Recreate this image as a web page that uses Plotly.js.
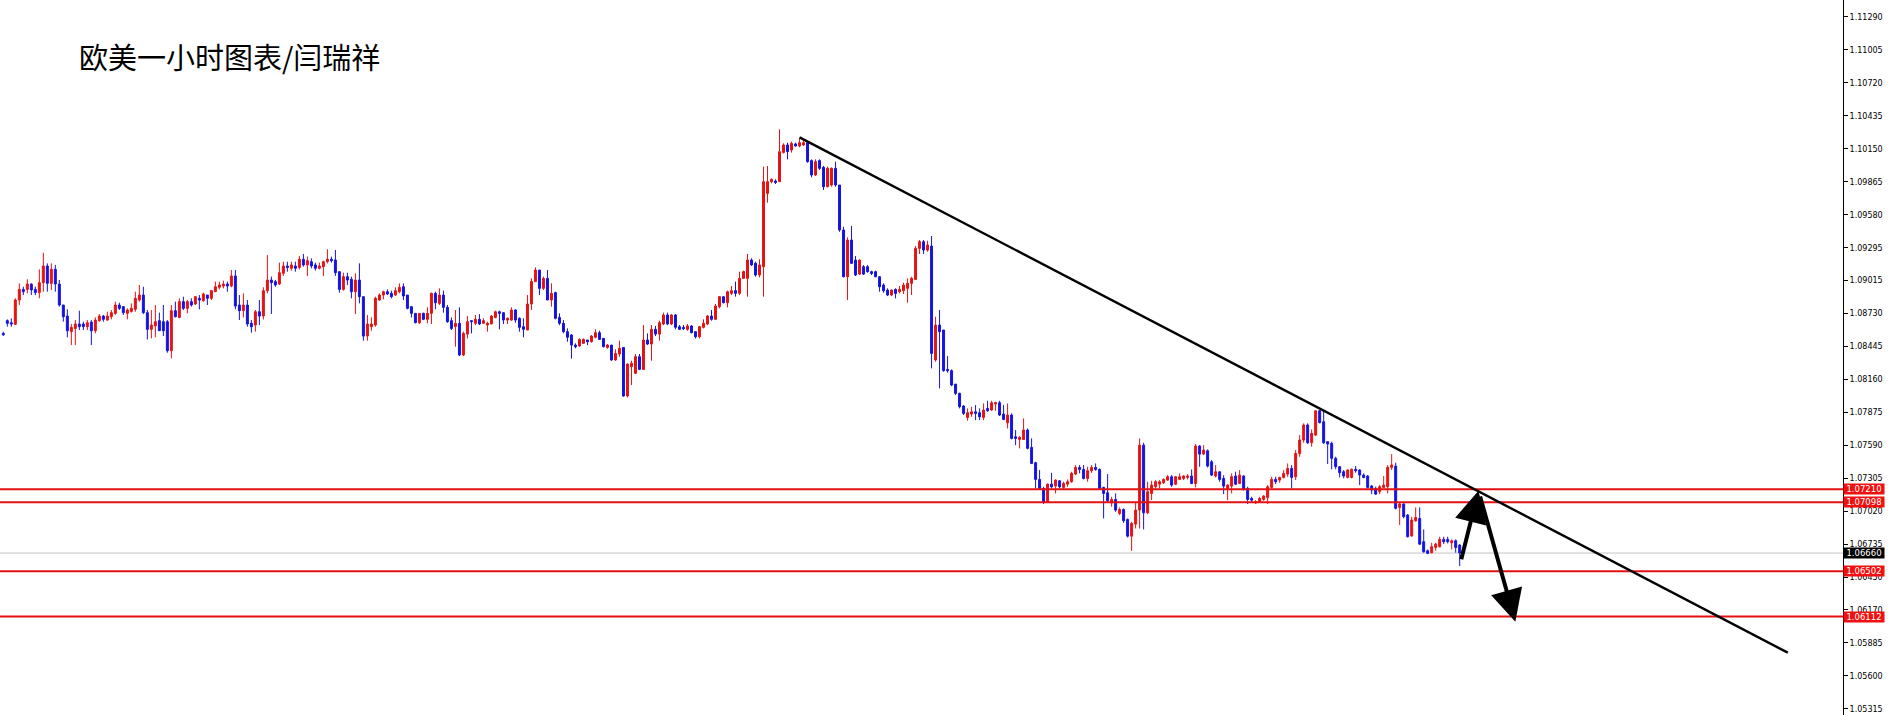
<!DOCTYPE html>
<html>
<head>
<meta charset="utf-8">
<script src="https://cdn.plot.ly/plotly-3.0.1.min.js"></script>
<style>
html,body{margin:0;padding:0;background:#ffffff;}
#chart{width:1890px;height:715px;}
</style>
</head>
<body>
<div id="chart"></div>
<script>
// ---- EUR/USD 1-hour candles ----
const opens = [
1.08557,1.08667,1.08649,1.08635,1.08845,1.08937,1.08937,1.08983,1.08937,1.08909,
1.08995,1.09139,1.08989,1.09110,1.08983,1.08802,1.08707,1.08572,1.08600,1.08638,
1.08638,1.08615,1.08655,1.08580,1.08667,1.08707,1.08672,1.08701,1.08730,1.08802,
1.08788,1.08730,1.08747,1.08765,1.08845,1.08888,1.08736,1.08592,1.08621,1.08667,
1.08658,1.08658,1.08407,1.08753,1.08695,1.08831,1.08773,1.08831,1.08811,1.08860,
1.08839,1.08888,1.08860,1.08917,1.08955,1.08966,1.08983,1.08966,1.09053,1.08802,
1.08753,1.08802,1.08644,1.08629,1.08744,1.08707,1.08926,1.09018,1.09004,1.08983,
1.09076,1.09139,1.09119,1.09139,1.09127,1.09197,1.09148,1.09176,1.09148,1.09119,
1.09133,1.09176,1.09197,1.09191,1.09090,1.08937,1.09047,1.09024,1.08917,1.09018,
1.08874,1.08534,1.08615,1.08629,1.08845,1.08888,1.08917,1.08903,1.08888,1.08917,
1.08960,1.08888,1.08788,1.08730,1.08649,1.08730,1.08678,1.08730,1.08903,1.08816,
1.08888,1.08782,1.08667,1.08615,1.08644,1.08370,1.08551,1.08667,1.08644,1.08678,
1.08644,1.08629,1.08638,1.08695,1.08744,1.08736,1.08672,1.08672,1.08759,1.08687,
1.08615,1.08586,1.08811,1.09004,1.09104,1.08946,1.09032,1.08845,1.08909,1.08695,
1.08644,1.08572,1.08543,1.08456,1.08448,1.08471,1.08500,1.08485,1.08523,1.08563,
1.08514,1.08436,1.08456,1.08327,1.08379,1.08436,1.08016,1.08269,1.08212,1.08356,
1.08246,1.08500,1.08465,1.08592,1.08551,1.08638,1.08716,1.08638,1.08716,1.08615,
1.08609,1.08592,1.08621,1.08572,1.08528,1.08609,1.08638,1.08707,1.08678,1.08788,
1.08874,1.08822,1.08903,1.08926,1.08903,1.09032,1.09032,1.09191,1.09162,1.09061,
1.09133,1.09766,1.09867,1.09873,1.09867,1.10118,1.10184,1.10141,1.10193,1.10175,
1.10184,1.10204,1.10049,1.09925,1.10049,1.09991,1.09824,1.09838,1.09982,1.09838,
1.09450,1.09046,1.09363,1.09190,1.09069,1.09133,1.09133,1.09090,1.09090,1.09046,
1.08974,1.08931,1.08888,1.08937,1.08917,1.08925,1.08946,1.08989,1.09023,1.09291,
1.09349,1.09277,1.09311,1.08327,1.08629,1.08586,1.08246,1.08235,1.08119,1.08039,
1.07929,1.07831,1.07860,1.07880,1.07872,1.07831,1.07909,1.07895,1.07947,1.07958,
1.07860,1.07785,1.07852,1.07664,1.07641,1.07641,1.07722,1.07572,1.07440,1.07296,
1.07218,1.07103,1.07255,1.07238,1.07284,1.07227,1.07255,1.07276,1.07342,1.07399,
1.07382,1.07304,1.07371,1.07399,1.07382,1.07227,1.07181,1.07094,1.07123,1.07002,
1.07037,1.06950,1.06806,1.06910,1.07031,1.07592,1.07008,1.07175,1.07232,1.07255,
1.07267,1.07290,1.07319,1.07255,1.07296,1.07304,1.07313,1.07325,1.07261,1.07584,
1.07515,1.07543,1.07448,1.07325,1.07362,1.07304,1.07218,1.07238,1.07325,1.07261,
1.07325,1.07218,1.07132,1.07094,1.07103,1.07123,1.07140,1.07227,1.07296,1.07290,
1.07313,1.07342,1.07391,1.07319,1.07520,1.07636,1.07766,1.07613,1.07679,1.07889,
1.07794,1.07622,1.07607,1.07478,1.07406,1.07362,1.07313,1.07313,1.07383,1.07377,
1.07334,1.07325,1.07239,1.07218,1.07190,1.07227,1.07233,1.07400,1.07411,1.07054,
1.07083,1.06988,1.06807,1.06939,1.06959,1.06758,1.06680,1.06663,1.06709,1.06714,
1.06778,1.06778,1.06749,1.06766,1.06729
];
const highs = [
1.08572,1.08678,1.08687,1.08860,1.08989,1.08960,1.09024,1.08989,1.08960,1.09110,
1.09254,1.09162,1.09162,1.09148,1.09018,1.08802,1.08765,1.08638,1.08672,1.08753,
1.08658,1.08672,1.08672,1.08695,1.08724,1.08716,1.08744,1.08759,1.08831,1.08822,
1.08793,1.08773,1.08816,1.08917,1.08975,1.08960,1.08759,1.08759,1.08802,1.08736,
1.08802,1.08672,1.08802,1.08831,1.08860,1.08874,1.08845,1.08860,1.08880,1.08888,
1.08909,1.08888,1.08932,1.09004,1.09004,1.09012,1.09004,1.09104,1.09104,1.08888,
1.08903,1.08845,1.08672,1.08759,1.08845,1.08955,1.09234,1.09047,1.09018,1.09168,
1.09176,1.09176,1.09176,1.09176,1.09225,1.09243,1.09220,1.09205,1.09168,1.09168,
1.09185,1.09283,1.09220,1.09277,1.09090,1.09081,1.09081,1.09047,1.09076,1.09162,
1.08874,1.08716,1.08695,1.08874,1.08903,1.08926,1.08937,1.08926,1.08955,1.08989,
1.08989,1.08888,1.08793,1.08730,1.08730,1.08736,1.08782,1.08909,1.08917,1.08946,
1.08926,1.08802,1.08695,1.08759,1.08782,1.08572,1.08707,1.08672,1.08716,1.08724,
1.08687,1.08658,1.08716,1.08753,1.08753,1.08736,1.08695,1.08782,1.08765,1.08695,
1.08687,1.08888,1.09032,1.09127,1.09104,1.09047,1.09104,1.08989,1.08917,1.08730,
1.08672,1.08600,1.08551,1.08471,1.08514,1.08514,1.08500,1.08543,1.08592,1.08580,
1.08514,1.08465,1.08456,1.08419,1.08494,1.08436,1.08298,1.08321,1.08379,1.08379,
1.08629,1.08557,1.08629,1.08621,1.08667,1.08736,1.08736,1.08724,1.08724,1.08629,
1.08629,1.08638,1.08629,1.08572,1.08621,1.08678,1.08716,1.08759,1.08811,1.08880,
1.08874,1.08926,1.08966,1.09004,1.09090,1.09099,1.09243,1.09205,1.09176,1.09197,
1.09997,1.10003,1.09896,1.09887,1.10319,1.10198,1.10204,1.10213,1.10204,1.10242,
1.10221,1.10213,1.10060,1.10060,1.10060,1.10003,1.09997,1.09991,1.10040,1.09838,
1.09478,1.09386,1.09484,1.09225,1.09196,1.09147,1.09147,1.09098,1.09098,1.09052,
1.08989,1.08946,1.08937,1.08946,1.08966,1.08995,1.09032,1.09046,1.09311,1.09363,
1.09363,1.09357,1.09398,1.08701,1.08759,1.08586,1.08361,1.08246,1.08119,1.08045,
1.07938,1.07909,1.07924,1.07938,1.07909,1.07952,1.07975,1.07975,1.07967,1.07975,
1.07938,1.07952,1.07866,1.07722,1.07670,1.07823,1.07736,1.07650,1.07448,1.07376,
1.07232,1.07261,1.07353,1.07296,1.07290,1.07276,1.07296,1.07362,1.07420,1.07420,
1.07420,1.07405,1.07420,1.07434,1.07391,1.07232,1.07342,1.07146,1.07175,1.07054,
1.07045,1.06959,1.06930,1.07103,1.07650,1.07613,1.07276,1.07284,1.07290,1.07290,
1.07304,1.07333,1.07333,1.07325,1.07348,1.07333,1.07342,1.07382,1.07601,1.07592,
1.07592,1.07555,1.07463,1.07420,1.07362,1.07333,1.07255,1.07348,1.07362,1.07376,
1.07333,1.07232,1.07146,1.07117,1.07146,1.07160,1.07247,1.07319,1.07319,1.07319,
1.07376,1.07434,1.07420,1.07549,1.07679,1.07780,1.07780,1.07728,1.07889,1.07895,
1.07889,1.07622,1.07622,1.07492,1.07411,1.07377,1.07383,1.07391,1.07411,1.07383,
1.07348,1.07334,1.07247,1.07233,1.07247,1.07325,1.07420,1.07515,1.07440,1.07095,
1.07095,1.06997,1.06974,1.07054,1.07054,1.06864,1.06691,1.06749,1.06749,1.06801,
1.06801,1.06801,1.06778,1.06778,1.06737
];
const lows = [
1.08534,1.08615,1.08615,1.08629,1.08802,1.08888,1.08903,1.08888,1.08888,1.08860,
1.08917,1.08917,1.08932,1.08917,1.08788,1.08658,1.08523,1.08456,1.08456,1.08586,
1.08586,1.08586,1.08456,1.08557,1.08658,1.08658,1.08667,1.08678,1.08716,1.08759,
1.08716,1.08678,1.08736,1.08744,1.08831,1.08724,1.08505,1.08514,1.08523,1.08580,
1.08534,1.08390,1.08341,1.08695,1.08687,1.08759,1.08730,1.08788,1.08802,1.08765,
1.08831,1.08802,1.08845,1.08917,1.08937,1.08946,1.08917,1.08955,1.08765,1.08672,
1.08695,1.08615,1.08563,1.08572,1.08629,1.08678,1.08903,1.08724,1.08960,1.08975,
1.09053,1.09090,1.09099,1.09090,1.09110,1.09133,1.09053,1.09119,1.09099,1.09110,
1.09053,1.09162,1.09168,1.09053,1.08909,1.08926,1.08975,1.08860,1.08724,1.08816,
1.08494,1.08494,1.08580,1.08615,1.08839,1.08851,1.08888,1.08860,1.08880,1.08903,
1.08845,1.08765,1.08695,1.08644,1.08638,1.08672,1.08644,1.08638,1.08765,1.08802,
1.08736,1.08649,1.08586,1.08442,1.08361,1.08361,1.08514,1.08557,1.08629,1.08629,
1.08638,1.08572,1.08638,1.08687,1.08592,1.08638,1.08638,1.08667,1.08649,1.08572,
1.08523,1.08586,1.08759,1.09004,1.08888,1.08932,1.08845,1.08788,1.08678,1.08629,
1.08557,1.08485,1.08339,1.08428,1.08442,1.08465,1.08456,1.08477,1.08514,1.08500,
1.08436,1.08425,1.08321,1.08321,1.08356,1.08010,1.08004,1.08111,1.08206,1.08240,
1.08240,1.08456,1.08321,1.08534,1.08494,1.08629,1.08629,1.08629,1.08592,1.08586,
1.08586,1.08580,1.08557,1.08514,1.08514,1.08600,1.08629,1.08667,1.08672,1.08773,
1.08816,1.08782,1.08888,1.08874,1.08888,1.09032,1.08874,1.09139,1.09047,1.09041,
1.08874,1.09686,1.09853,1.09847,1.09867,1.10112,1.10060,1.10118,1.10170,1.10164,
1.10175,1.10031,1.09905,1.09916,1.09968,1.09795,1.09818,1.09824,1.09824,1.09435,
1.09041,1.08845,1.09156,1.09052,1.09061,1.09061,1.09081,1.09061,1.09041,1.08917,
1.08908,1.08879,1.08879,1.08859,1.08902,1.08897,1.08822,1.08888,1.09018,1.09242,
1.09242,1.09262,1.08255,1.08312,1.08082,1.08226,1.08217,1.08102,1.08024,1.07909,
1.07852,1.07803,1.07837,1.07808,1.07808,1.07808,1.07880,1.07889,1.07889,1.07843,
1.07808,1.07736,1.07641,1.07592,1.07564,1.07636,1.07555,1.07428,1.07218,1.07209,
1.07083,1.07094,1.07218,1.07175,1.07218,1.07204,1.07232,1.07267,1.07333,1.07348,
1.07296,1.07276,1.07353,1.07371,1.07209,1.06959,1.07103,1.07060,1.07016,1.06988,
1.06921,1.06795,1.06679,1.06872,1.06872,1.06864,1.06996,1.07117,1.07218,1.07218,
1.07255,1.07284,1.07232,1.07247,1.07290,1.07290,1.07296,1.07255,1.07227,1.07405,
1.07506,1.07399,1.07325,1.07313,1.07276,1.07169,1.07117,1.07175,1.07247,1.07255,
1.07198,1.07083,1.07103,1.07083,1.07094,1.07111,1.07083,1.07218,1.07255,1.07267,
1.07304,1.07319,1.07218,1.07290,1.07492,1.07613,1.07601,1.07578,1.07671,1.07780,
1.07601,1.07429,1.07383,1.07383,1.07313,1.07305,1.07305,1.07305,1.07354,1.07247,
1.07305,1.07218,1.07169,1.07161,1.07169,1.07218,1.07175,1.07377,1.07037,1.06902,
1.06959,1.06795,1.06801,1.06930,1.06729,1.06663,1.06651,1.06657,1.06680,1.06709,
1.06737,1.06743,1.06691,1.06663,1.06547
];
const closes = [
1.08546,1.08644,1.08638,1.08845,1.08937,1.08917,1.08983,1.08932,1.08909,1.08995,
1.09139,1.08989,1.09110,1.08983,1.08802,1.08701,1.08580,1.08609,1.08638,1.08615,
1.08615,1.08649,1.08580,1.08672,1.08707,1.08678,1.08707,1.08736,1.08802,1.08773,
1.08736,1.08759,1.08773,1.08860,1.08888,1.08736,1.08592,1.08629,1.08658,1.08580,
1.08580,1.08407,1.08753,1.08701,1.08831,1.08773,1.08831,1.08802,1.08874,1.08845,
1.08897,1.08860,1.08926,1.08960,1.08975,1.08983,1.08966,1.09053,1.08793,1.08753,
1.08802,1.08638,1.08615,1.08744,1.08707,1.08926,1.09018,1.08995,1.08975,1.09081,
1.09139,1.09127,1.09148,1.09119,1.09197,1.09148,1.09185,1.09139,1.09119,1.09139,
1.09176,1.09197,1.09185,1.09081,1.08937,1.09047,1.09018,1.08917,1.09018,1.08874,
1.08534,1.08638,1.08638,1.08860,1.08888,1.08917,1.08897,1.08874,1.08926,1.08955,
1.08880,1.08773,1.08730,1.08649,1.08730,1.08678,1.08730,1.08903,1.08822,1.08888,
1.08782,1.08658,1.08600,1.08644,1.08370,1.08557,1.08658,1.08658,1.08678,1.08638,
1.08667,1.08644,1.08707,1.08744,1.08730,1.08672,1.08687,1.08759,1.08672,1.08609,
1.08592,1.08811,1.09004,1.09104,1.08946,1.09032,1.08845,1.08903,1.08687,1.08644,
1.08572,1.08523,1.08456,1.08442,1.08505,1.08505,1.08485,1.08534,1.08563,1.08505,
1.08442,1.08456,1.08327,1.08384,1.08428,1.08016,1.08292,1.08298,1.08356,1.08246,
1.08500,1.08465,1.08592,1.08551,1.08649,1.08716,1.08638,1.08716,1.08609,1.08592,
1.08598,1.08621,1.08563,1.08528,1.08615,1.08644,1.08707,1.08678,1.08793,1.08874,
1.08822,1.08917,1.08926,1.08903,1.09032,1.09090,1.09191,1.09148,1.09061,1.09148,
1.09867,1.09867,1.09887,1.09861,1.10126,1.10184,1.10126,1.10198,1.10175,1.10204,
1.10204,1.10040,1.09925,1.10040,1.09982,1.09824,1.09982,1.09982,1.09838,1.09450,
1.09046,1.09363,1.09162,1.09061,1.09190,1.09069,1.09090,1.09075,1.09046,1.08960,
1.08925,1.08888,1.08931,1.08902,1.08937,1.08974,1.08989,1.09032,1.09291,1.09349,
1.09277,1.09320,1.08384,1.08629,1.08572,1.08235,1.08235,1.08111,1.08039,1.07924,
1.07866,1.07872,1.07880,1.07866,1.07837,1.07895,1.07889,1.07958,1.07958,1.07852,
1.07814,1.07852,1.07650,1.07650,1.07659,1.07722,1.07564,1.07434,1.07296,1.07218,
1.07103,1.07255,1.07232,1.07290,1.07232,1.07261,1.07276,1.07348,1.07399,1.07382,
1.07304,1.07371,1.07399,1.07382,1.07218,1.07175,1.07111,1.07123,1.07031,1.07037,
1.06939,1.06806,1.06916,1.07031,1.07592,1.07008,1.07189,1.07247,1.07276,1.07276,
1.07296,1.07319,1.07247,1.07319,1.07319,1.07325,1.07325,1.07261,1.07584,1.07515,
1.07549,1.07411,1.07333,1.07362,1.07296,1.07238,1.07247,1.07319,1.07255,1.07333,
1.07209,1.07123,1.07117,1.07103,1.07132,1.07152,1.07232,1.07296,1.07276,1.07313,
1.07348,1.07391,1.07313,1.07520,1.07636,1.07766,1.07613,1.07694,1.07889,1.07786,
1.07613,1.07601,1.07478,1.07406,1.07354,1.07325,1.07377,1.07383,1.07371,1.07334,
1.07313,1.07227,1.07204,1.07169,1.07233,1.07247,1.07400,1.07420,1.07046,1.07083,
1.06974,1.06801,1.06945,1.06968,1.06737,1.06671,1.06657,1.06714,1.06737,1.06778,
1.06758,1.06758,1.06766,1.06709,1.06660
];
const barIndex = opens.map((_, i) => i);

// price scale tick labels (right axis)
const tickValues = [1.11290,1.11005,1.10720,1.10435,1.10150,1.09865,1.09580,1.09295,1.09015,
  1.08730,1.08445,1.08160,1.07875,1.07590,1.07305,1.07020,1.06735,1.06450,1.06170,1.05885,1.05600,1.05315];

// horizontal levels drawn on the chart
const levelLines = [1.07210, 1.07098, 1.06502, 1.06112];
const currentPrice = 1.06660;

// trend line and arrow drawings (bar index, price)
const trendBars = [199, 446];
const trendPrices = [1.10250, 1.05800];
const arrowUpBars = [364.3, 368.7];
const arrowUpPrices = [1.06594, 1.07199];
const arrowDownBars = [369.0, 377.9];
const arrowDownPrices = [1.07161, 1.06067];

const chartTitle = '欧美一小时图表/闫瑞祥';

const RED = '#e41313';
const BLUE = '#1414e0';
const LEVEL_RED = '#e31212';

const candle = {
  type: 'candlestick',
  x: barIndex,
  open: opens, high: highs, low: lows, close: closes,
  increasing: {line: {color: RED, width: 1}, fillcolor: RED},
  decreasing: {line: {color: BLUE, width: 1}, fillcolor: BLUE},
  whiskerwidth: 0,
  showlegend: false,
  hoverinfo: 'skip'
};

const shapes = [];
shapes.push({type: 'line', xref: 'paper', x0: 0, x1: 1, yref: 'y', y0: currentPrice, y1: currentPrice,
  line: {color: '#c4c4c4', width: 1}, layer: 'below'});
levelLines.forEach(v => shapes.push({type: 'line', xref: 'paper', x0: 0, x1: 1, yref: 'y', y0: v, y1: v,
  line: {color: LEVEL_RED, width: 2}}));
shapes.push({type: 'line', xref: 'x', yref: 'y', x0: trendBars[0], x1: trendBars[1], y0: trendPrices[0], y1: trendPrices[1],
  line: {color: '#000000', width: 2.4}});

const annotations = [];
annotations.push({xref: 'paper', yref: 'paper', x: 0.0418, y: 0.9217, xanchor: 'left', yanchor: 'middle',
  text: chartTitle, showarrow: false, font: {family: 'Noto Sans CJK SC', size: 29, color: '#000000'}});

function arrow(bx, py) {
  return {xref: 'x', yref: 'y', axref: 'x', ayref: 'y', x: bx[1], y: py[1], ax: bx[0], ay: py[0],
    text: '', showarrow: true, arrowhead: 2, arrowsize: 1.6, arrowwidth: 4, arrowcolor: '#000000', standoff: 0, startstandoff: 0};
}
annotations.push(arrow(arrowUpBars, arrowUpPrices));
annotations.push(arrow(arrowDownBars, arrowDownPrices));

function tag(v, bg) {
  return {xref: 'paper', yref: 'y', x: 1, y: v, xanchor: 'left', yanchor: 'middle', xshift: 0,
    text: v.toFixed(5), showarrow: false, bgcolor: bg, borderpad: 0, width: 40, height: 10, align: 'center',
    font: {family: 'DejaVu Sans', size: 8.5, color: '#ffffff'}};
}
levelLines.forEach(v => annotations.push(tag(v, '#f01010')));
annotations.push(tag(currentPrice, '#000000'));

const layout = {
  width: 1890, height: 715,
  margin: {l: 0, r: 47, t: 0, b: 0, pad: 0},
  paper_bgcolor: '#ffffff', plot_bgcolor: '#ffffff',
  showlegend: false,
  boxgap: 0.3,
  xaxis: {range: [-0.83, 459.8], visible: false, showgrid: false, zeroline: false, fixedrange: true,
    rangeslider: {visible: false}},
  yaxis: {side: 'right', range: [1.052615, 1.11436], showgrid: false, zeroline: false,
    showline: true, linecolor: '#000000', linewidth: 1, mirror: false,
    ticks: 'outside', ticklen: 4, tickcolor: '#000000', tickwidth: 1,
    tickmode: 'array', tickvals: tickValues, ticktext: tickValues.map(v => v.toFixed(5)),
    tickfont: {family: 'DejaVu Sans', size: 8, color: '#000000'}},
  shapes: shapes,
  annotations: annotations
};

Plotly.newPlot('chart', [candle], layout, {staticPlot: true, displayModeBar: false});
</script>
</body>
</html>
